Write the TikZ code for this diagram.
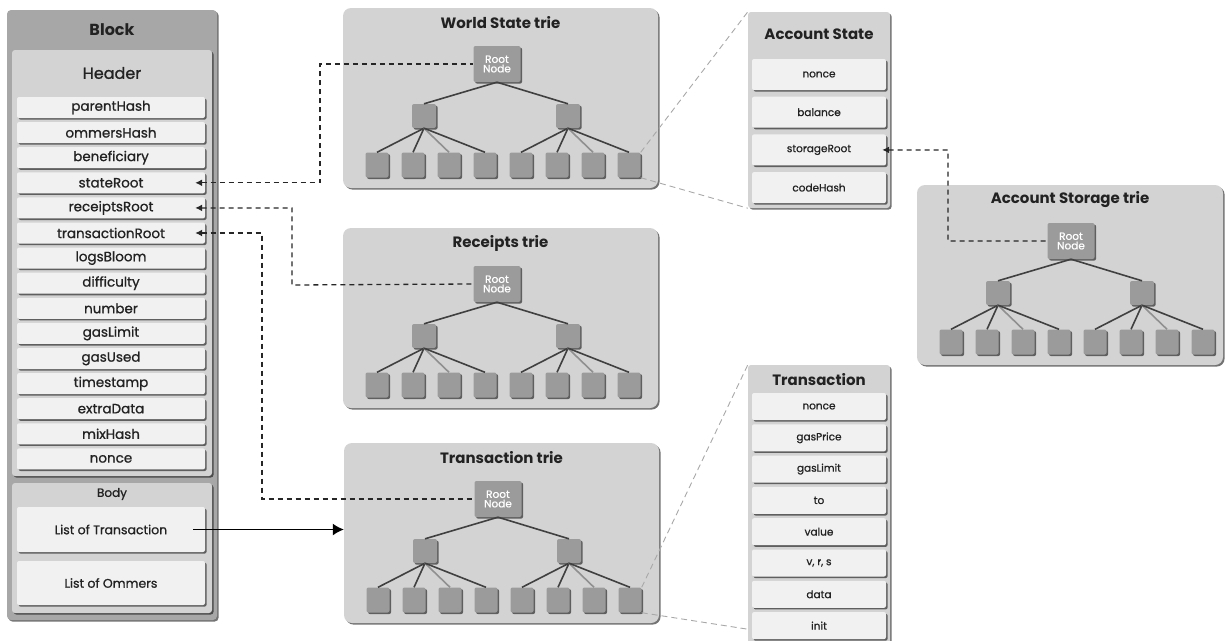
\documentclass[tikz,border=0pt]{standalone}
\usepackage{fontspec}
\setmainfont{Poppins}
\newfontfamily\medfont{Poppins}[FakeBold=0.9]
\usetikzlibrary{shadows,arrows.meta}

\definecolor{outergray}{HTML}{A7A7A7}
\definecolor{panelgray}{HTML}{D3D3D3}
\definecolor{fieldgray}{HTML}{F1F1F1}
\definecolor{nodegray}{HTML}{9B9B9B}
\definecolor{inkgray}{HTML}{222222}
\definecolor{edgedark}{HTML}{404040}
\definecolor{edgelight}{HTML}{909090}
\definecolor{zoomgray}{HTML}{A8A8A8}

\tikzset{
  shade box/.style={drop shadow={shadow xshift=1.6pt, shadow yshift=-1.6pt, opacity=0.55, fill=black}},
  outerbox/.style={fill=outergray, rounded corners=4pt, shade box, inner sep=0},
  panel/.style={fill=panelgray, rounded corners=3pt, shade box, inner sep=0},
  field/.style={fill=fieldgray, rounded corners=2pt, shade box, inner sep=0, text=inkgray},
  triebox/.style={fill=panelgray, rounded corners=8pt, shade box, inner sep=0},
  tnode/.style={fill=nodegray, rounded corners=2pt, shade box, inner sep=0},
  rootnode/.style={tnode, minimum width=47pt, minimum height=36pt, text=white,
    font=\medfont\fontsize{10.5}{9.5}\selectfont, align=center},
  midnode/.style={tnode, minimum width=24pt, minimum height=24pt},
  leafnode/.style={tnode, minimum width=23pt, minimum height=25pt},
  title/.style={text=inkgray, font=\fontsize{15}{17}\selectfont\bfseries},
  hdrfield/.style={field, minimum width=188pt, minimum height=21pt, font=\medfont\fontsize{13.5}{15}\selectfont},
  smallfield/.style={field, minimum width=134pt, font=\medfont\fontsize{10.5}{12}\selectfont},
  treeedge/.style={draw=edgedark, line width=1.6pt},
  lightedge/.style={draw=edgelight, line width=1.6pt},
  rootlink/.style={draw=black!85, line width=1.3pt, dash pattern=on 5pt off 4pt, {Latex[length=7pt,width=7pt]}-},
  zoomline/.style={draw=zoomgray, line width=0.9pt, dash pattern=on 6pt off 4pt},
}

% a trie panel: #1 name, #2 left, #3 top, #4 width, #5 title
\newcommand\drawtrie[5]{%
  \node[triebox, minimum width=#4pt, minimum height=180pt] (#1) at (#2+#4/2,#3+90) {};
  \node[title] (#1-title) at (#2+#4/2,#3+15) {#5};
  \node[rootnode] (#1-root) at (#2+154,#3+56) {Root\\Node};
  \node[midnode] (#1-ml) at (#2+81,#3+108) {};
  \node[midnode] (#1-mr) at (#2+225,#3+108) {};
  \foreach \i in {0,...,7} {\node[leafnode] (#1-l\i) at (#2+34+36*\i,#3+157) {};}
  \draw[treeedge] (#1-root.south) -- (#1-ml.north);
  \draw[treeedge] (#1-root.south) -- (#1-mr.north);
  \foreach \i/\s in {0/treeedge,1/treeedge,2/lightedge,3/treeedge} {\draw[\s] (#1-ml.south) -- (#1-l\i.north);}
  \foreach \i/\s in {4/treeedge,5/treeedge,6/lightedge,7/treeedge} {\draw[\s] (#1-mr.south) -- (#1-l\i.north);}
}

\begin{document}
\begin{tikzpicture}[x=1pt,y=-1pt]
\useasboundingbox (0,0) rectangle (1225,640);
\begin{scope}
\clip (0,0) rectangle (1225,640);

% ---------------- Block ----------------
\node[outerbox, minimum width=210pt, minimum height=610pt] (block) at (112,315) {};
\node[title, font=\fontsize{16}{18}\selectfont\bfseries] (blocktitle) at (112,30) {Block};
\node[panel, minimum width=200pt, minimum height=426pt] (header) at (112,263) {};
\node[text=inkgray, font=\medfont\fontsize{16}{18}\selectfont] (headertitle) at (112,73) {Header};
\foreach \name [count=\k from 0] in {parentHash,ommersHash,beneficiary,stateRoot,receiptsRoot,transactionRoot,logsBloom,difficulty,number,gasLimit,gasUsed,timestamp,extraData,mixHash,nonce}
  {\node[hdrfield] (\name) at (111,107.5+25.1*\k) {\name};}
\node[panel, minimum width=200pt, minimum height=130pt] (body) at (112,548) {};
\node[text=inkgray, font=\medfont\fontsize{12}{14}\selectfont] (bodytitle) at (112,494) {Body};
\node[field, minimum width=188pt, minimum height=45pt, font=\medfont\fontsize{12.5}{14}\selectfont] (txlist) at (111,529.5) {List of Transaction};
\node[field, minimum width=188pt, minimum height=44pt, font=\medfont\fontsize{12.5}{14}\selectfont] (ommerlist) at (111,583) {List of Ommers};

% ---------------- Tries ----------------
\drawtrie{ws}{343}{8}{315}{World State trie}
\drawtrie{rc}{343}{228}{315}{Receipts trie}
\drawtrie{tx}{344}{443}{315}{Transaction trie}
\drawtrie{st}{917}{185}{306}{Account Storage trie}

% ---------------- Account State ----------------
\node[panel, minimum width=142pt, minimum height=196pt] (acct) at (819,110) {};
\node[title] (accttitle) at (819,34) {Account State};
\foreach \name [count=\k from 0] in {nonce,balance,storageRoot,codeHash}
  {\node[smallfield, minimum height=31pt] (acct-\name) at (819,74.5+37.7*\k) {\name};}

% ---------------- Transaction ----------------
\node[panel, minimum width=142pt, minimum height=290pt] (txn) at (819,510) {};
\node[title] (txntitle) at (819,380) {Transaction};
\foreach \name/\lab [count=\k from 0] in {nonce/nonce,gasPrice/gasPrice,gasLimit/gasLimit,to/to,value/value,vrs/{v, r, s},data/data,init/init}
  {\node[smallfield, minimum height=27pt] (txn-\name) at (819,406.5+31.3*\k) {\lab};}

% ---------------- Connectors ----------------
\coordinate (bendS) at (320,64);
\coordinate (bendR) at (292,285);
\coordinate (bendT) at (262,499);
\coordinate (bendA) at (948,150);
\draw[rootlink] ([xshift=-10pt]stateRoot.east) -| (bendS) -- (ws-root.west);
\draw[rootlink] ([xshift=-10pt]receiptsRoot.east) -| (bendR) -- (rc-root.west);
\draw[rootlink] ([xshift=-10pt]transactionRoot.east) -| (bendT) -- (tx-root.west);
\draw[rootlink] ([xshift=-4pt]acct-storageRoot.east) -- (bendA) |- (st-root.west);

\draw[line width=1.4pt, -{Latex[length=11pt,width=12pt]}] ([xshift=-12pt]txlist.east) -- (tx.west |- txlist.east);

\draw[zoomline] (ws-l7.north east) -- (acct.north west);
\draw[zoomline] (ws-l7.south east) -- (acct.south west);
\draw[zoomline] (tx-l7.north east) -- (txn.north west);
\draw[zoomline] (tx-l7.south east) -- ([yshift=-6pt]txn.west |- tx.south);
\end{scope}
\end{tikzpicture}
\end{document}
